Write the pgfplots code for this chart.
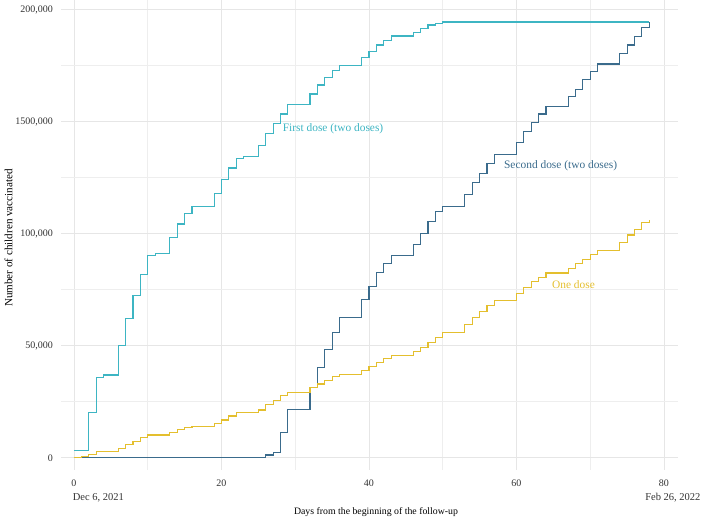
\documentclass[border=0pt]{standalone}
\usepackage{fontspec}
\setmainfont{Liberation Serif}
\usepackage{pgfplots}
\pgfplotsset{compat=1.18}
\usepackage{pgfplotstable}
\definecolor{cfirst}{HTML}{3DB5C3}
\definecolor{csecond}{HTML}{3A6B8C}
\definecolor{cone}{HTML}{E4BF2E}
\definecolor{gridmaj}{HTML}{E6E6E6}
\definecolor{gridmin}{HTML}{EEEEEE}

\pgfplotstableread{
day value
0 3100
2 20200
3 35900
4 36900
6 50000
7 62000
8 72500
9 81800
10 90000
11 90900
13 98100
14 104200
15 109100
16 112000
19 118000
20 124000
21 129200
22 133600
23 134400
25 139400
26 144700
27 149100
28 153300
29 157400
32 162200
33 166200
34 169600
35 172600
36 175100
39 178600
40 181100
41 184100
42 186000
43 188100
46 189700
47 191500
48 193000
49 193700
50 194300
78 194300
}\firstdose

\pgfplotstableread{
day value
0 0
26 1200
27 2200
28 11200
29 21400
32 31400
33 40300
34 48300
35 55800
36 62600
39 70600
40 76300
41 82500
42 86700
43 90000
46 94900
47 100100
48 105200
49 109700
50 112200
53 117400
54 122600
55 126800
56 131300
57 135400
60 140500
61 145400
62 149400
63 153300
64 156800
67 161000
68 164400
69 168500
70 172200
71 175600
74 180100
75 184100
76 187800
77 192000
78 194300
}\seconddose

\pgfplotstableread{
day value
0 0
1 500
2 1300
3 2800
6 4200
7 5700
8 7100
9 8900
10 10100
13 11300
14 12400
15 13400
16 14100
19 15300
20 16800
21 18600
22 20100
25 21300
26 23800
27 25500
28 27600
29 28900
32 31400
33 32900
34 34600
35 36100
36 37000
39 38800
40 40600
41 42400
42 44300
43 45400
46 47300
47 49200
48 51300
49 53700
50 55700
53 59400
54 62500
55 65300
56 67900
57 70200
60 73200
61 75900
62 78400
63 80400
64 82400
67 84400
68 86600
69 88400
70 90800
71 92600
74 95800
75 99300
76 101800
77 104800
78 106000
}\onedose

\begin{document}
\begin{tikzpicture}
\path[use as bounding box] (0,0) rectangle (702pt,517pt);
\begin{axis}[
  at={(61pt,47pt)}, anchor=south west,
  width=617pt, height=470pt, scale only axis,
  xmin=-1.76, xmax=81.9, ymin=-5490, ymax=204140,
  axis line style={draw=none},
  tick style={draw=none},
  xtick={0,20,40,60,80}, minor xtick={10,30,50,70},
  ytick={0,50000,100000,150000,200000},
  yticklabels={0,{50,000},{100,000},{1500,000},{200,000}},
  minor ytick={25000,75000,125000,175000},
  grid=both,
  major grid style={color=gridmaj, line width=0.6pt},
  minor grid style={color=gridmin, line width=0.5pt},
  scaled y ticks=false,
  /pgf/number format/assume math mode=true,
  tick label style={font=\fontsize{10}{12}\selectfont, text=black!80, inner sep=0pt},
  xticklabel style={anchor=base, yshift=-16.7pt},
  yticklabel style={anchor=base east, xshift=-8pt, yshift=-3.4pt},
  xlabel={Days from the beginning of the follow-up},
  xlabel style={at={([yshift=-44.3pt]rel axis cs:0.5105,0)}, anchor=base, inner sep=0pt, font=\fontsize{9.8}{12}\selectfont},
  ylabel={Number of children vaccinated},
  ylabel style={at={([xshift=-48.5pt]rel axis cs:0,0.4936)}, anchor=base, rotate=0, inner sep=0pt, font=\fontsize{11.1}{13}\selectfont},
  clip=false,
]
\addplot[const plot, color=cfirst, line width=1.15pt] table[x=day, y=value] {\firstdose};
\addplot[const plot, color=csecond, line width=1.15pt] table[x=day, y=value] {\seconddose};
\addplot[const plot, color=cone, line width=1.15pt] table[x=day, y=value] {\onedose};

\node[anchor=base west, inner sep=0pt, text=cfirst, font=\fontsize{11.4}{13}\selectfont] at (axis cs:28.3,145700) {First dose (two doses)};
\node[anchor=base west, inner sep=0pt, text=csecond, font=\fontsize{11.4}{13}\selectfont] at (axis cs:58.3,129100) {Second dose (two doses)};
\node[anchor=base west, inner sep=0pt, text=cone, font=\fontsize{11.4}{13}\selectfont] at (axis cs:64.8,75400) {One dose};

\node[anchor=base west, inner sep=0pt, text=black!80, font=\fontsize{10.5}{12}\selectfont] at ([xshift=-1.3pt, yshift=-30pt]axis cs:0,-5490) {Dec 6, 2021};
\node[anchor=base east, inner sep=0pt, text=black!80, font=\fontsize{10.5}{12}\selectfont] at ([xshift=36.7pt, yshift=-30pt]axis cs:80,-5490) {Feb 26, 2022};
\end{axis}
\end{tikzpicture}
\end{document}
